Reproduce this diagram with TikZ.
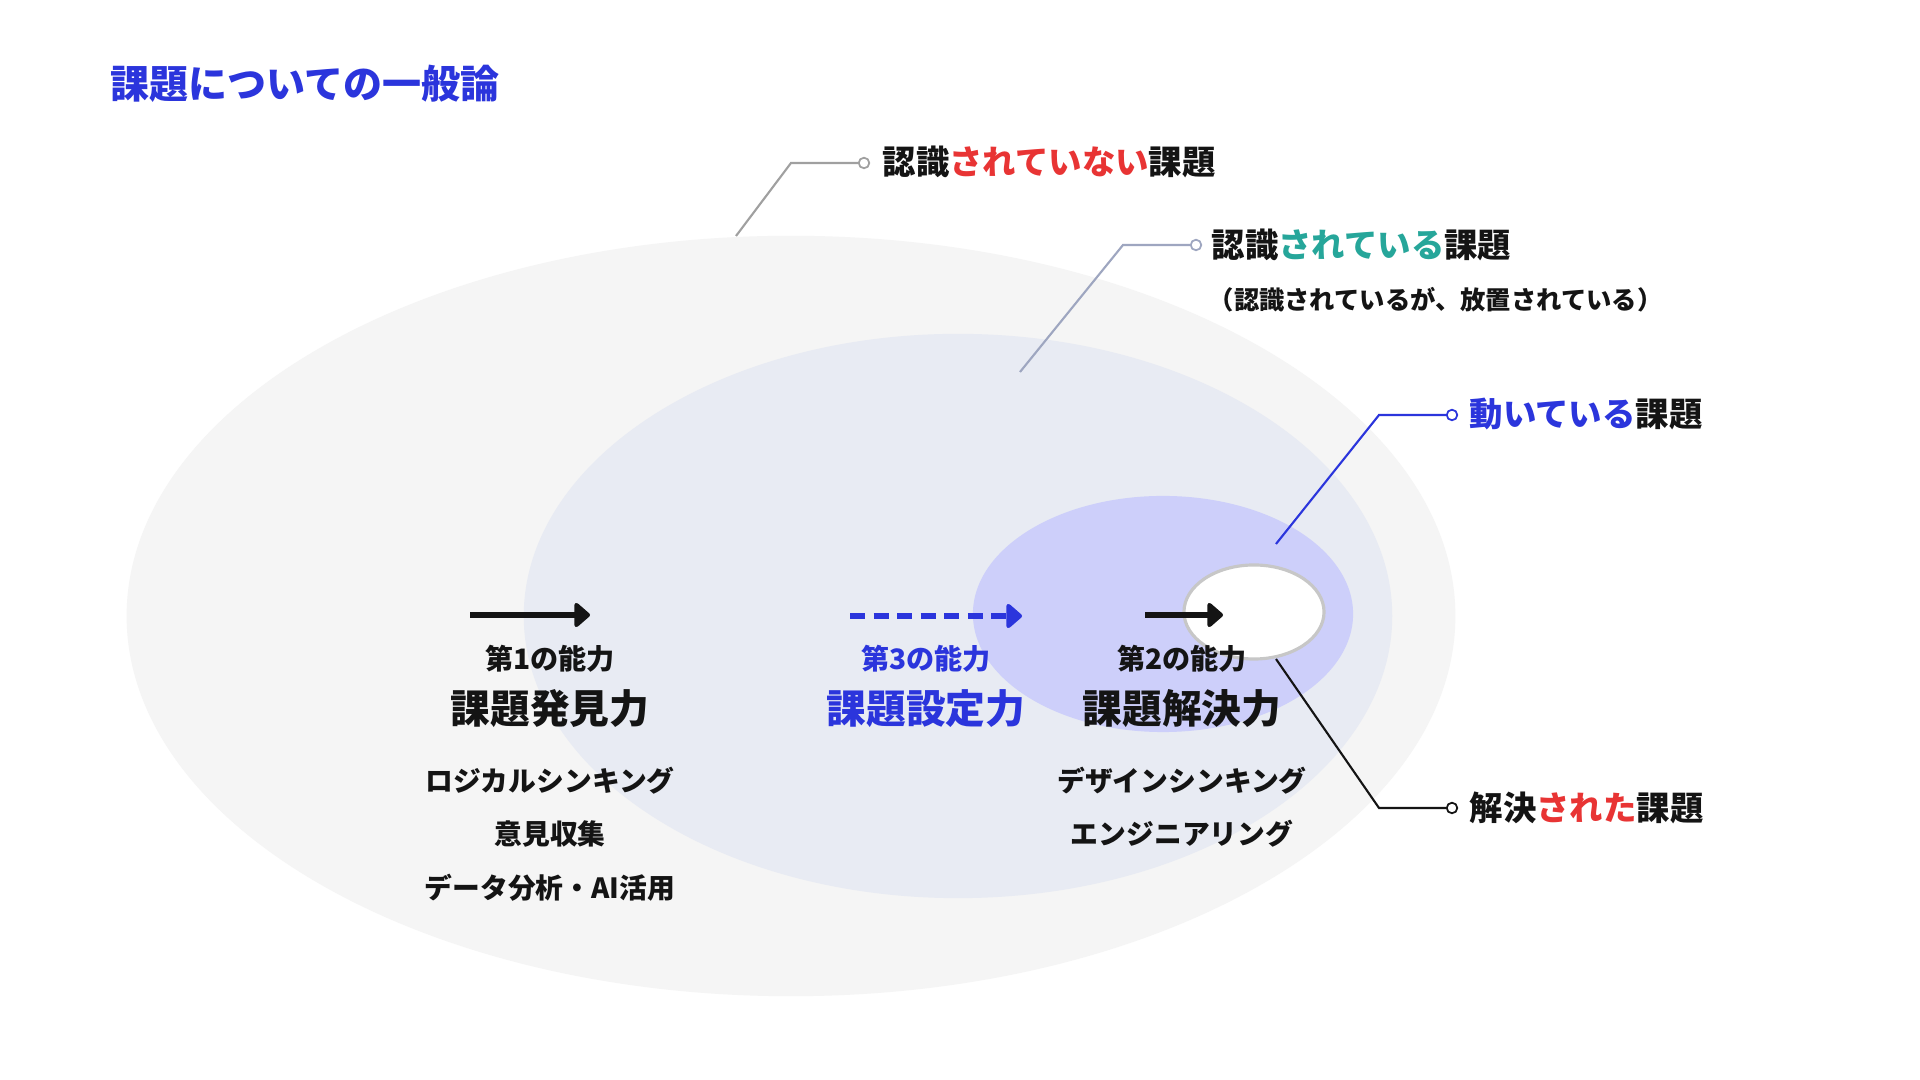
\documentclass[tikz,border=0pt]{standalone}
\usepackage{fontspec}
\setmainfont{Noto Sans CJK JP}
\usetikzlibrary{arrows.meta}
\definecolor{cblue}{RGB}{43,53,220}
\definecolor{cred}{RGB}{232,52,52}
\definecolor{cteal}{RGB}{38,166,154}
\definecolor{cink}{RGB}{20,20,20}
\definecolor{outerF}{RGB}{245,245,245}
\definecolor{midF}{RGB}{232,235,243}
\definecolor{innerF}{RGB}{205,207,250}
\definecolor{lgray}{RGB}{160,160,160}
\definecolor{lslate}{RGB}{158,166,192}
\tikzset{
  lbl/.style={anchor=west,inner sep=0pt,text=cink,font=\bfseries\fontsize{9.5}{11}\selectfont},
  sublbl/.style={anchor=west,inner sep=0pt,text=cink,font=\bfseries\fontsize{7.2}{8.5}\selectfont},
  abil/.style={inner sep=0pt,text=cink,font=\bfseries\fontsize{8}{9}\selectfont},
  skill/.style={inner sep=0pt,text=cink,font=\bfseries\fontsize{11.3}{13}\selectfont},
  item/.style={inner sep=0pt,text=cink,font=\bfseries\fontsize{7.9}{9}\selectfont},
  dotc/.style={circle,draw=#1,fill=white,line width=0.5pt,minimum size=3pt,inner sep=0pt},
  lead/.style={draw=#1,line width=0.6pt},
  bigarrow/.style={line width=1.9pt,-{Triangle[length=4.8pt,width=8pt,round]}}
}
\begin{document}
\begin{tikzpicture}[x=0.01cm,y=-0.01cm]
\useasboundingbox[fill=white] (0,0) rectangle (1920,1080);
% ellipses
\fill[outerF] (791,616) ellipse [x radius=6.64cm, y radius=3.80cm];
\fill[midF] (958,616) ellipse [x radius=4.34cm, y radius=2.82cm];
\fill[innerF] (1163,614) ellipse [x radius=1.90cm, y radius=1.18cm];
\draw[line width=0.9pt, draw=black!22, fill=white] (1254,612) ellipse [x radius=0.70cm, y radius=0.47cm];

% title
\node[anchor=west,inner sep=0pt,text=cblue,font=\bfseries\fontsize{11.1}{13}\selectfont] (title) at (110,84) {課題についての一般論};

% labels
\node[lbl] (l1) at (882,162) {認識\textcolor{cred}{されていない}課題};
\node[lbl] (l2) at (1211,245) {認識\textcolor{cteal}{されている}課題};
\node[sublbl] (l2s) at (1208,300) {（認識されているが、放置されている）};
\node[lbl] (l3) at (1469,414) {\textcolor{cblue}{動いている}課題};
\node[lbl] (l4) at (1469,808) {解決\textcolor{cred}{された}課題};

% leader dots and knees
\node[dotc=lgray] (d1) at (864,163) {};
\node[dotc=lslate] (d2) at (1196,245) {};
\node[dotc=cblue] (d3) at (1452,415) {};
\node[dotc=cink] (d4) at (1452,808) {};
\coordinate (k1) at (791,163);
\coordinate (k2) at (1123,245);
\coordinate (k3) at (1379,415);
\coordinate (k4) at (1379,808);
\coordinate (e1) at (736,236);
\coordinate (e2) at (1020,372);
\coordinate (e3) at (1276,544);
\coordinate (e4) at (1276,659);
\draw[lead=lgray] (e1) -- (k1) -- (d1);
\draw[lead=lslate] (e2) -- (k2) -- (d2);
\draw[lead=cblue] (e3) -- (k3) -- (d3);
\draw[lead=cink] (e4) -- (k4) -- (d4);

% arrows
\coordinate (a1s) at (470,615);
\coordinate (a1e) at (590,615);
\coordinate (a3s) at (850,616);
\coordinate (a3e) at (1022,616);
\coordinate (a2s) at (1145,615);
\coordinate (a2e) at (1223,615);
\draw[bigarrow,cink] (a1s) -- (a1e);
\draw[bigarrow,cblue,dash pattern=on 4.3pt off 2.4pt] (a3s) -- (a3e);
\draw[bigarrow,cink] (a2s) -- (a2e);

% abilities
\node[abil] (ab1) at (550,659) {第1の能力};
\node[skill] (sk1) at (550,709) {課題発見力};
\node[item] (i11) at (550,781) {ロジカルシンキング};
\node[item] (i12) at (550,834) {意見収集};
\node[item] (i13) at (550,888) {データ分析・AI活用};

\node[abil,text=cblue] (ab3) at (926,659) {第3の能力};
\node[skill,text=cblue] (sk3) at (926,709) {課題設定力};

\node[abil] (ab2) at (1182,659) {第2の能力};
\node[skill] (sk2) at (1182,709) {課題解決力};
\node[item] (i21) at (1182,781) {デザインシンキング};
\node[item] (i22) at (1182,834) {エンジニアリング};
\end{tikzpicture}
\end{document}
